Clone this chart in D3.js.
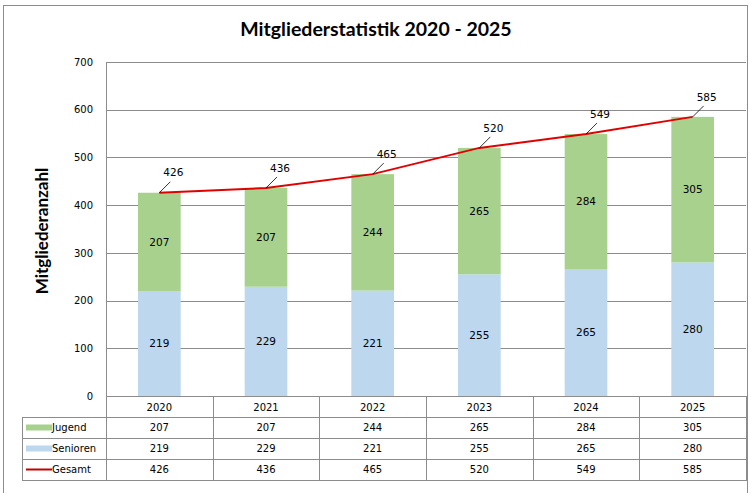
<!DOCTYPE html>
<html>
<head>
<meta charset="utf-8">
<script src="https://cdn.jsdelivr.net/npm/d3@7"></script>
<style>
  body { margin: 0; background: #fff; }
  svg { display: block; }
  text { font-family: "DejaVu Sans", Verdana, sans-serif; fill: #000; }
</style>
</head>
<body>
<div class="container"></div>
<script>
var years    = ["2020", "2021", "2022", "2023", "2024", "2025"];
var senioren = [219, 229, 221, 255, 265, 280];
var jugend   = [207, 207, 244, 265, 284, 305];
var gesamt   = [426, 436, 465, 520, 549, 585];
var yTicks   = [0, 100, 200, 300, 400, 500, 600, 700];

var loadChart = function(){
    var width = 750, height = 493;
    var left = 106, right = 746, top = 62, bottom = 396;
    var rowH = 21, tableLeft = 22;

    var svg = d3.select('.container')
                .append('svg')
                .attr('width', width)
                .attr('height', height);

    // outer frame
    svg.append('rect')
        .attr('x', 3.5).attr('y', 5.5)
        .attr('width', 744).attr('height', 495)
        .attr('fill', 'none')
        .attr('stroke', '#8c8c8c');

    svg.append('text')
        .attr('x', 376).attr('y', 36)
        .attr('text-anchor', 'middle')
        .style('font-family', 'Lato, "Open Sans", sans-serif')
        .style('font-weight', 'bold')
        .style('font-size', '19.5px')
        .text('Mitgliederstatistik 2020 - 2025');

    var x = d3.scaleBand().domain(years).range([left, right]).paddingInner(0.6).paddingOuter(0.3);
    var band = d3.scaleBand().domain(years).range([left, right]);
    var y = d3.scaleLinear().domain([0, 700]).range([bottom, top]);

    // gridlines + y axis
    var yAxis = svg.append('g')
        .attr('transform', 'translate(' + left + ',0)')
        .call(d3.axisLeft(y).tickValues(yTicks).tickSize(-(right - left)).tickPadding(13));
    yAxis.select('.domain').remove();
    yAxis.selectAll('.tick line').attr('stroke', '#8c8c8c').attr('shape-rendering', 'crispEdges');
    yAxis.selectAll('.tick text')
        .style('font-family', '"DejaVu Sans", sans-serif')
        .style('font-size', '10px');
    svg.append('line')
        .attr('x1', left + 0.5).attr('x2', left + 0.5)
        .attr('y1', top).attr('y2', bottom)
        .attr('stroke', '#8c8c8c');

    svg.append('text')
        .attr('transform', 'translate(48,' + ((top + bottom) / 2 + 2) + ') rotate(-90)')
        .attr('text-anchor', 'middle')
        .style('font-family', 'Lato, "Open Sans", sans-serif')
        .style('font-weight', 'bold')
        .style('font-size', '17px')
        .text('Mitgliederanzahl');

    // stacked bars
    svg.selectAll('rect.sen')
        .data(years).enter().append('rect').attr('class', 'sen')
        .attr('x', function(d) { return x(d); })
        .attr('width', x.bandwidth())
        .attr('y', function(d, i) { return y(senioren[i]); })
        .attr('height', function(d, i) { return y(0) - y(senioren[i]); })
        .attr('fill', '#BDD7EE');

    svg.selectAll('rect.jug')
        .data(years).enter().append('rect').attr('class', 'jug')
        .attr('x', function(d) { return x(d); })
        .attr('width', x.bandwidth())
        .attr('y', function(d, i) { return y(senioren[i] + jugend[i]); })
        .attr('height', function(d, i) { return y(senioren[i]) - y(senioren[i] + jugend[i]); })
        .attr('fill', '#A9D18E');

    var cx = function(d) { return x(d) + x.bandwidth() / 2; };

    svg.selectAll('text.senLbl')
        .data(years).enter().append('text').attr('class', 'senLbl')
        .attr('x', cx)
        .attr('y', function(d, i) { return y(senioren[i] / 2); })
        .attr('dy', '0.35em')
        .attr('text-anchor', 'middle')
        .style('font-size', '10.5px')
        .text(function(d, i) { return senioren[i]; });

    svg.selectAll('text.jugLbl')
        .data(years).enter().append('text').attr('class', 'jugLbl')
        .attr('x', cx)
        .attr('y', function(d, i) { return y(senioren[i] + jugend[i] / 2); })
        .attr('dy', '0.35em')
        .attr('text-anchor', 'middle')
        .style('font-size', '10.5px')
        .text(function(d, i) { return jugend[i]; });

    // total line
    var line = d3.line()
        .x(function(d, i) { return cx(years[i]); })
        .y(function(d) { return y(d); });
    svg.append('path')
        .datum(gesamt)
        .attr('d', line)
        .attr('fill', 'none')
        .attr('stroke', '#E00000')
        .attr('stroke-width', 2);

    // total labels with leader lines
    var ldx = 14, ldy = -20;
    svg.selectAll('line.leader')
        .data(years).enter().append('line').attr('class', 'leader')
        .attr('x1', cx)
        .attr('y1', function(d, i) { return y(gesamt[i]); })
        .attr('x2', function(d) { return cx(d) + ldx - 3; })
        .attr('y2', function(d, i) { return y(gesamt[i]) + ldy + 9; })
        .attr('stroke', '#000')
        .attr('stroke-width', 0.8);
    svg.selectAll('text.totLbl')
        .data(years).enter().append('text').attr('class', 'totLbl')
        .attr('x', function(d) { return cx(d) + ldx; })
        .attr('y', function(d, i) { return y(gesamt[i]) + ldy; })
        .attr('dy', '0.35em')
        .attr('text-anchor', 'middle')
        .style('font-size', '10.5px')
        .text(function(d, i) { return gesamt[i]; });

    // data table
    var tbl = svg.append('g').attr('class', 'table');
    var rows = [
        { name: 'Jugend', values: jugend, key: 'rect', color: '#A9D18E' },
        { name: 'Senioren', values: senioren, key: 'rect', color: '#BDD7EE' },
        { name: 'Gesamt', values: gesamt, key: 'line', color: '#C00000' }
    ];
    var stroke = '#8c8c8c';

    // header row (years)
    years.forEach(function(yr) {
        tbl.append('text')
            .attr('x', band(yr) + band.bandwidth() / 2)
            .attr('y', bottom + rowH / 2 + 1)
            .attr('dy', '0.35em')
            .attr('text-anchor', 'middle')
            .style('font-size', '10px')
            .text(yr);
    });
    // vertical lines
    years.concat(['end']).forEach(function(yr, i) {
        var xx = i < years.length ? band(yr) : right;
        tbl.append('line')
            .attr('x1', Math.round(xx) + 0.5).attr('x2', Math.round(xx) + 0.5)
            .attr('y1', bottom).attr('y2', bottom + rowH * 4)
            .attr('stroke', stroke);
    });
    tbl.append('line')
        .attr('x1', tableLeft + 0.5).attr('x2', tableLeft + 0.5)
        .attr('y1', bottom + rowH).attr('y2', bottom + rowH * 4)
        .attr('stroke', stroke);
    // horizontal lines
    [1, 2, 3, 4].forEach(function(r) {
        tbl.append('line')
            .attr('x1', tableLeft).attr('x2', right + 1)
            .attr('y1', bottom + rowH * r + 0.5).attr('y2', bottom + rowH * r + 0.5)
            .attr('stroke', stroke);
    });
    tbl.append('line')
        .attr('x1', left).attr('x2', right + 1)
        .attr('y1', bottom + 0.5).attr('y2', bottom + 0.5)
        .attr('stroke', stroke);

    rows.forEach(function(row, r) {
        var ry = bottom + rowH * (r + 1);
        if (row.key === 'rect') {
            tbl.append('rect')
                .attr('x', tableLeft + 4).attr('y', ry + rowH / 2 - 3)
                .attr('width', 26).attr('height', 6)
                .attr('fill', row.color);
        } else {
            tbl.append('line')
                .attr('x1', tableLeft + 4).attr('x2', tableLeft + 30)
                .attr('y1', ry + rowH / 2).attr('y2', ry + rowH / 2)
                .attr('stroke', row.color).attr('stroke-width', 2);
        }
        tbl.append('text')
            .attr('x', tableLeft + 30)
            .attr('y', ry + rowH / 2)
            .attr('dy', '0.35em')
            .style('font-size', '10px')
            .text(row.name);
        years.forEach(function(yr, i) {
            tbl.append('text')
                .attr('x', band(yr) + band.bandwidth() / 2)
                .attr('y', ry + rowH / 2)
                .attr('dy', '0.35em')
                .attr('text-anchor', 'middle')
                .style('font-size', '10px')
                .text(row.values[i]);
        });
    });
};
window.onload = loadChart;
</script>
</body>
</html>
